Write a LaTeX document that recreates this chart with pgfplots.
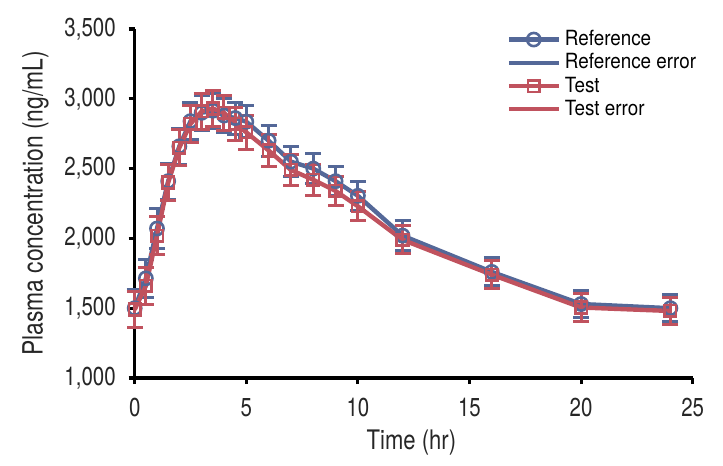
\documentclass[border=0pt]{standalone}
\usepackage{fontspec}
\setmainfont{TeX Gyre Heros}[FakeStretch=0.82]
\newfontfamily\legfont{TeX Gyre Heros}[FakeStretch=0.9]
\newfontfamily\tickfont{TeX Gyre Heros}[FakeStretch=0.79]
\usepackage{pgfplots}
\pgfplotsset{compat=1.18}
\definecolor{refblue}{RGB}{84,104,152}
\definecolor{testred}{RGB}{192,82,94}

\begin{document}
\begin{tikzpicture}
\begin{axis}[
    scale only axis,
    width=279bp, height=174.5bp,
    xmin=0, xmax=25, ymin=1000, ymax=3500,
    xtick={0,5,...,25},
    ytick={1000,1500,...,3500},
    axis lines*=left,
    axis line style={line width=1.6bp, black},
    tick style={line width=1.6bp, black},
    tick align=outside,
    major tick length=3bp,
    /pgf/number format/1000 sep={,},
    /pgf/number format/assume math mode=true,
    tick label style={font=\tickfont\fontsize{13}{15}\selectfont, text=black!85},
    yticklabel style={xshift=-3bp},
    xticklabel style={yshift=-3.5bp},
    xlabel={Time (hr)},
    ylabel={Plasma concentration (ng/mL)},
    xlabel style={font=\fontsize{13.5}{15}\selectfont, text=black!85,
        at={(axis description cs:0.496,-0.206)}, anchor=base},
    ylabel style={font=\fontsize{14}{16}\selectfont, text=black!85,
        at={(axis description cs:-0.165,0.5)}, anchor=base},
    legend style={draw=none, fill=none, at={(rel axis cs:0.655,1.02)}, anchor=north west,
        font=\legfont\fontsize{10.5}{12}\selectfont, row sep=-1.5bp,
        /tikz/every even column/.append style={column sep=2bp}},
    legend cell align=left,
    legend image code/.code={\draw[#1] (0cm,0cm) -- (25bp,0cm);
        \path[#1] plot coordinates {(12.5bp,0cm)};},
    clip=false,
]
\coordinate (bl) at (rel axis cs:0,0);
\coordinate (tr) at (rel axis cs:1,1);
\addplot[color=refblue, line width=2.2bp, mark=o, mark size=3.3bp,
    mark options={fill=white, line width=1.3bp},
    error bars/.cd, y dir=both, y explicit,
    error bar style={line width=1.5bp, refblue}, error mark options={rotate=90, mark size=4bp, line width=1.5bp}]
table[x=t, y=c, y error=e] {
t    c     e
0    1500  135
0.5  1714  135
1    2071  140
1.5  2410  130
2    2660  130
2.5  2840  130
3    2900  125
3.5  2915  125
4    2880  120
4.5  2862  115
5    2836  115
6    2700  110
7    2550  110
8    2500  110
9    2410  105
10   2305  105
12   2020  110
16   1760  100
20   1530  100
24   1500  95
};
\addlegendentry{Reference}
\addlegendimage{color=refblue, line width=2.2bp}
\addlegendentry{Reference error}
\addplot[color=testred, line width=2.2bp, mark=square, mark size=2.9bp,
    mark options={fill=white, line width=1.3bp},
    error bars/.cd, y dir=both, y explicit,
    error bar style={line width=1.5bp, testred}, error mark options={rotate=90, mark size=4bp, line width=1.5bp}]
table[x=t, y=c, y error=e] {
t    c     e
0    1490  130
0.5  1660  130
1    2020  135
1.5  2400  130
2    2650  130
2.5  2820  130
3    2910  130
3.5  2930  130
4    2900  125
4.5  2820  120
5    2760  120
6    2630  115
7    2490  110
8    2420  110
9    2340  105
10   2230  105
12   1990  100
16   1740  100
20   1505  100
24   1480  95
};
\addlegendentry{Test}
\addlegendimage{color=testred, line width=2.2bp}
\addlegendentry{Test error}
\end{axis}
\pgfresetboundingbox
\path[use as bounding box] ([shift={(-67.35bp,-44bp)}]bl) rectangle ([shift={(15.15bp,14.5bp)}]tr);
\end{tikzpicture}
\end{document}
